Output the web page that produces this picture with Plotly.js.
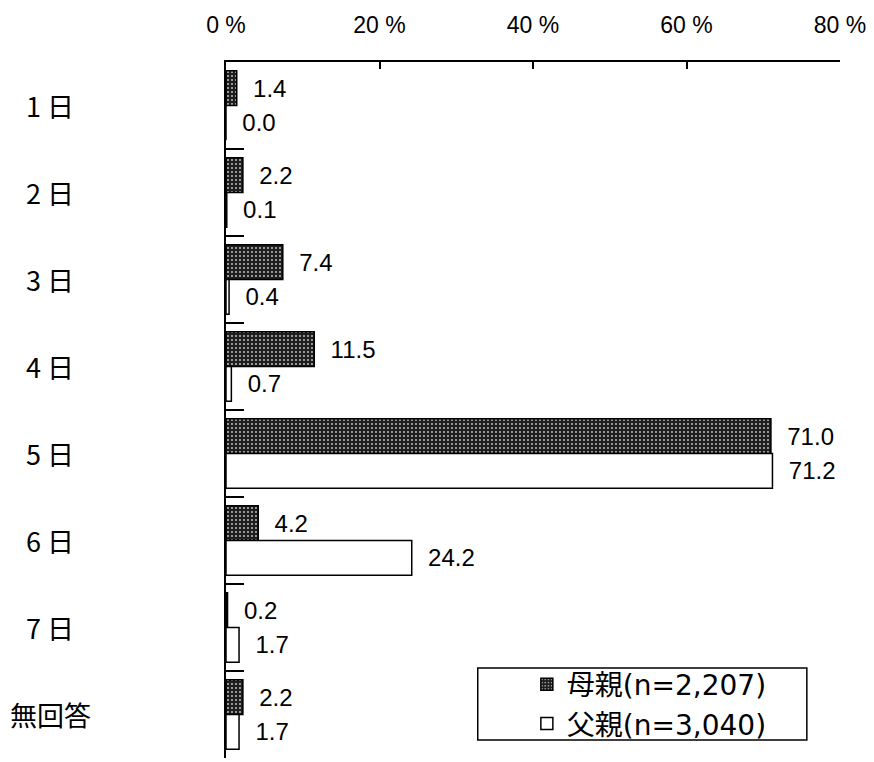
<!DOCTYPE html>
<html>
<head>
<meta charset="utf-8">
<script src="https://cdn.plot.ly/plotly-3.0.1.min.js"></script>
<style>
  html, body { margin: 0; padding: 0; background: #fff; }
  #chart { width: 874px; height: 762px; }
</style>
</head>
<body>
<div id="chart"></div>
<script>
// Days worked per week, share of respondents (%)
const categories = ['1日', '2日', '3日', '4日', '5日', '6日', '7日', '無回答'];
const categoryLabels = ['1 日', '2 日', '3 日', '4 日', '5 日', '6 日', '7 日', '無回答'];
const motherName = '母親(n=2,207)';
const fatherName = '父親(n=3,040)';
const motherValues = [1.4, 2.2, 7.4, 11.5, 71.0, 4.2, 0.2, 2.2];
const fatherValues = [0.0, 0.1, 0.4, 0.7, 71.2, 24.2, 1.7, 1.7];
const xTicks = [0, 20, 40, 60, 80];

const numFamily = 'Liberation Sans Narrow, Liberation Sans, Arial, sans-serif';
const numFont = { family: numFamily, size: 24, color: '#000' };
const cjkFont = { family: 'Noto Sans CJK JP, Liberation Sans, sans-serif', size: 27, color: '#000' };

const mother = {
  type: 'bar', orientation: 'h', name: motherName,
  y: categories, x: motherValues,
  marker: {
    color: '#1e1e1e',
    line: { color: '#000', width: 1.5 },
    pattern: { shape: '.', fgcolor: '#c8c8c8', bgcolor: '#1e1e1e', size: 4, solidity: 0.18, fillmode: 'replace' }
  },
  texttemplate: '\u00a0\u00a0%{x:.1f}', textposition: 'outside', constraintext: 'none',
  cliponaxis: false, textfont: numFont, hoverinfo: 'skip'
};

const father = {
  type: 'bar', orientation: 'h', name: fatherName,
  y: categories, x: fatherValues,
  marker: { color: '#fff', line: { color: '#000', width: 1.5 } },
  texttemplate: '\u00a0\u00a0%{x:.1f}', textposition: 'outside', constraintext: 'none',
  cliponaxis: false, textfont: numFont, hoverinfo: 'skip'
};

// Category names drawn centred in the left margin
const catAnnotations = categories.map((c, i) => ({
  xref: 'paper', yref: 'y', x: -0.2866, y: c, xanchor: 'center', yanchor: 'middle',
  text: categoryLabels[i], showarrow: false, font: cjkFont
}));

const layout = {
  width: 874, height: 762,
  margin: { l: 226, r: 34, t: 62, b: 4 },
  paper_bgcolor: '#fff', plot_bgcolor: '#fff',
  barmode: 'group', bargap: 0.2, bargroupgap: 0,
  showlegend: true,
  xaxis: {
    side: 'top', range: [0, 80], tickvals: xTicks, ticktext: xTicks.map(v => v + ' %'),
    ticks: 'inside', ticklen: 7, tickwidth: 2, tickcolor: '#000',
    showline: true, linecolor: '#000', linewidth: 2,
    showgrid: false, zeroline: false, ticklabelstandoff: 18,
    tickfont: { family: numFamily, size: 23, color: '#000' }
  },
  yaxis: {
    type: 'category', categoryorder: 'array', categoryarray: categories,
    autorange: 'reversed', showticklabels: false,
    tickson: 'boundaries', ticks: 'inside', ticklen: 18, tickwidth: 1.5, tickcolor: '#000',
    showline: true, linecolor: '#000', linewidth: 2, showgrid: false, zeroline: false
  },
  legend: {
    x: 0.49, y: 0.0776, xanchor: 'left', yanchor: 'middle',
    bgcolor: 'rgba(0,0,0,0)', borderwidth: 0, traceorder: 'normal',
    font: { family: 'DejaVu Sans, Noto Sans CJK JP, sans-serif', size: 28, color: '#000' },
    itemwidth: 30, tracegroupgap: 0
  },
  shapes: [{
    type: 'rect', xref: 'paper', yref: 'paper',
    x0: 0.41, x1: 0.946, y0: 0.0259, y1: 0.1293,
    line: { color: '#000', width: 1.5 }, fillcolor: 'rgba(0,0,0,0)'
  }],
  annotations: catAnnotations
};

Plotly.newPlot('chart', [mother, father], layout, { displayModeBar: false, staticPlot: true });
</script>
</body>
</html>
